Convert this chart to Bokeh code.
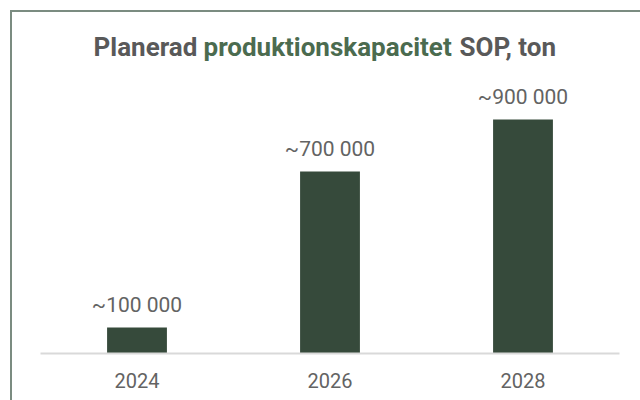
from bokeh.plotting import figure
from bokeh.models import Range1d, FactorRange, Label, ColumnDataSource, InlineStyleSheet
from bokeh.core.properties import value
from bokeh.embed import file_html
from bokeh.resources import INLINE

years = ["2024", "2026", "2028"]
capacity = [100000, 700000, 900000]
value_labels = ["~100 000", "~700 000", "~900 000"]
title_parts = ["Planerad", "produktionskapacitet", "SOP, ton"]

GRAY = "#595959"
LABEL_GRAY = "#636363"
GREEN = "#4b6b4f"
BAR = "#364a3b"
FONT = "Roboto"

src = ColumnDataSource(dict(x=years, top=capacity, lab=value_labels))

p = figure(width=640, height=400, x_range=FactorRange(*years, range_padding=0),
           y_range=Range1d(0, 1357700), output_backend="svg", toolbar_location=None,
           min_border_left=40, min_border_right=21, min_border_top=0, min_border_bottom=47)

p.vbar(x="x", top="top", width=0.31, source=src, fill_color=BAR, line_color=None)
p.text(x="x", y="top", text="lab", source=src, text_align="center", text_baseline="alphabetic",
       y_offset=-23, text_font=value(FONT), text_font_size="21px", text_color=LABEL_GRAY)

p.outline_line_color = None
p.grid.visible = False
p.yaxis.visible = False
p.xaxis.axis_line_color = "#d9d9d9"
p.xaxis.axis_line_width = 2
p.xaxis.major_tick_line_color = None
p.xaxis.minor_tick_line_color = None
p.xaxis.major_label_standoff = 13
p.xaxis.major_label_text_font = FONT
p.xaxis.major_label_text_font_size = "20px"
p.xaxis.major_label_text_color = LABEL_GRAY

title_x = [93, 203, 459]
title_colors = [GRAY, GREEN, GRAY]
for t, xx, c in zip(title_parts, title_x, title_colors):
    p.add_layout(Label(x=xx, y=1177000, x_units="canvas", y_units="data", text=t,
                       text_font=FONT, text_font_size="26px", text_font_style="bold",
                       text_color=c, text_baseline="alphabetic", text_align="left"))

p.stylesheets = [InlineStyleSheet(css="""
:host { position: relative; }
:host::after {
  content: ""; position: absolute; left: 10px; top: 10px; right: 0; bottom: 0;
  border-left: 2px solid #7b8c81; border-top: 2px solid #7b8c81;
  pointer-events: none; box-sizing: border-box;
}
""")]

open("out.html", "w").write(file_html(p, INLINE))
